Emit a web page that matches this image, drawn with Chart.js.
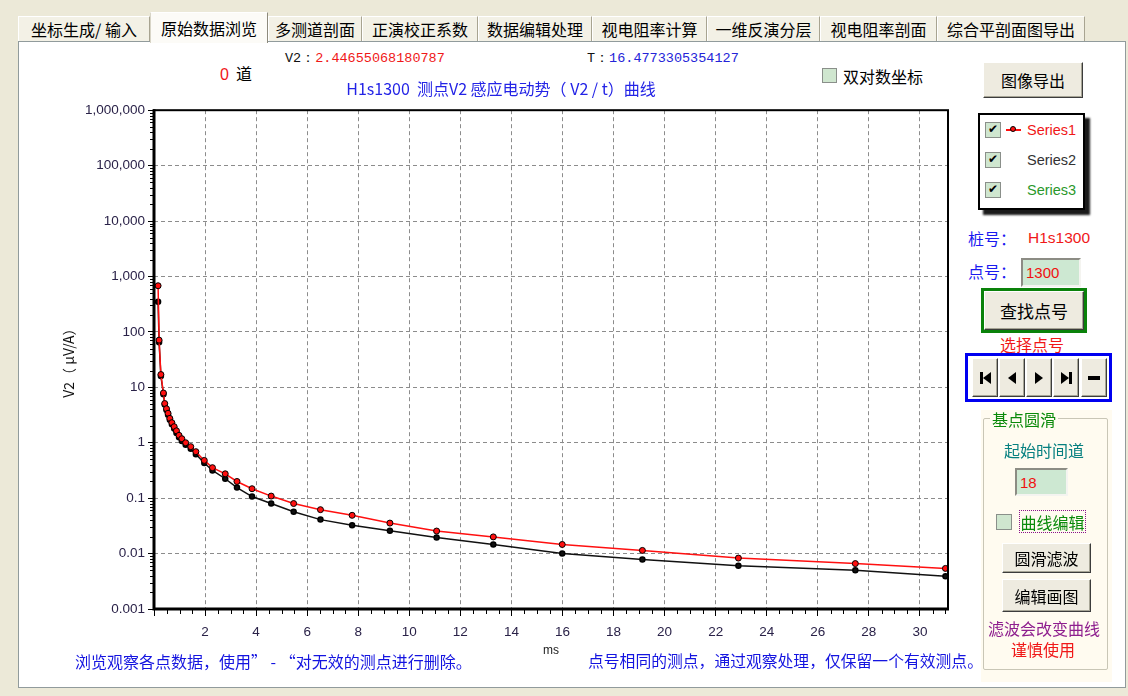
<!DOCTYPE html>
<html>
<head>
<meta charset="utf-8">
<title>原始数据浏览</title>
<script src="https://cdn.jsdelivr.net/npm/chart.js@4.4.1/dist/chart.umd.min.js"></script>
<style>
  html, body { margin: 0; padding: 0; }
  body {
    width: 1128px; height: 696px; position: relative; overflow: hidden;
    background: #ECE9D8;
    font-family: "Noto Sans CJK SC", "Liberation Sans", sans-serif;
  }
  .abs { position: absolute; white-space: nowrap; }
  .mid { transform: translateY(-50%); line-height: 1; }
  .ctr { transform: translate(-50%, -50%); line-height: 1; }
  .panel { left: 18px; top: 41px; width: 1106px; height: 645px; background: #fff; border: 1px solid #919B9C; }
  .tab {
    top: 16px; height: 25px; box-sizing: border-box;
    background: #F3F1E6; border-top: 1px solid #fff; border-left: 1px solid #fff; border-right: 1px solid #A8A491;
    font-size: 16px; color: #000; display: flex; align-items: center; justify-content: center;
  }
  .tab.sel { top: 12px; height: 31px; background: #FCFBF7; border-right: 1px solid #8D8A7C; border-left: 1px solid #D8D5C7; z-index: 2; }
  .mono { font-family: "Liberation Mono", "DejaVu Sans Mono", monospace; font-size: 13.5px; }
  .btn {
    box-sizing: border-box; background: #EEEBE0;
    border: 1px solid; border-color: #FFFFFF #3C3C3C #3C3C3C #FFFFFF;
    box-shadow: inset -1px -1px 0 #A7A596;
    display: flex; align-items: center; justify-content: center;
    font-size: 16px; color: #000;
  }
  .cb {
    box-sizing: border-box; width: 15px; height: 15px;
    border: 1px solid #8A8F8A; background: #CFE6CF;
    font-family: "DejaVu Sans", sans-serif; font-size: 12px; font-weight: bold; line-height: 13px; text-align: center; color: #000;
  }
  .edit {
    box-sizing: border-box; background: #CDE8D2;
    border: 2px solid; border-color: #8C8C84 #F4F4F0 #F4F4F0 #8C8C84;
    font-family: "Liberation Sans", sans-serif; font-size: 15px; color: #F01010;
    padding-left: 3px; display: flex; align-items: center;
  }
  .lat { font-family: "Liberation Sans", Arial, sans-serif; }
  .nav { top: 358px; width: 26px; height: 39px; }
  .tri-l { width: 0; height: 0; border-top: 6px solid transparent; border-bottom: 6px solid transparent; border-right: 8px solid #000; }
  .tri-r { width: 0; height: 0; border-top: 6px solid transparent; border-bottom: 6px solid transparent; border-left: 8px solid #000; }
  .bar { width: 3px; height: 12px; background: #000; }
</style>
</head>
<body>

<!-- tab pages -->
<div class="abs panel"></div>
<div class="abs tab" style="left:18px;width:132px;">坐标生成/ 输入</div>
<div class="abs tab sel" style="left:150px;width:118px;">原始数据浏览</div>
<div class="abs tab" style="left:268px;width:94px;">多测道剖面</div>
<div class="abs tab" style="left:362px;width:116px;">正演校正系数</div>
<div class="abs tab" style="left:478px;width:114px;">数据编辑处理</div>
<div class="abs tab" style="left:592px;width:115px;">视电阻率计算</div>
<div class="abs tab" style="left:707px;width:113px;">一维反演分层</div>
<div class="abs tab" style="left:820px;width:117px;">视电阻率剖面</div>
<div class="abs tab" style="left:937px;width:148px;">综合平剖面图导出</div>

<!-- readout line above the plot -->
<div class="abs mid mono" style="left:285px;top:59px;color:#111;">V2：<span style="color:#F01818;">2.44655068180787</span></div>
<div class="abs mid mono" style="left:587px;top:59px;color:#111;">T：<span style="color:#2424D8;">16.4773305354127</span></div>
<div class="abs mid" style="left:220px;top:74px;font-size:16px;"><span class="lat" style="color:#F01818;">0</span>&nbsp;&nbsp;道</div>
<div class="abs cb" style="left:822px;top:68px;"></div>
<div class="abs mid" style="left:843px;top:76px;font-size:16px;">双对数坐标</div>

<!-- chart -->
<div class="abs" style="left:20px;top:78px;width:940px;height:582px;">
  <canvas id="chart" width="940" height="582"></canvas>
</div>

<!-- notes under the plot -->
<div class="abs mid" style="left:75px;top:661px;font-size:16px;color:#1414E0;">浏览观察各点数据，使用” - “对无效的测点进行删除。</div>
<div class="abs mid" style="left:588px;top:661px;font-size:15.8px;color:#1414E0;">点号相同的测点，通过观察处理，仅保留一个有效测点。</div>

<!-- right control column -->
<div class="abs btn" style="left:983px;top:62px;width:100px;height:36px;">图像导出</div>

<div class="abs" id="legendBox" style="left:978px;top:113px;width:107px;height:97px;box-sizing:border-box;border:2px solid #000;background:#fff;box-shadow:5px 5px 2px #1a1a1a;"></div>

<div class="abs mid" style="left:968px;top:238px;font-size:16px;color:#1A1AF0;">桩号：</div>
<div class="abs mid lat" style="left:1028px;top:238px;font-size:15.5px;color:#F01818;">H1s1300</div>
<div class="abs mid" style="left:968px;top:271px;font-size:16px;color:#1A1AF0;">点号：</div>
<div class="abs edit" style="left:1021px;top:258px;width:60px;height:29px;">1300</div>

<div class="abs" style="left:981px;top:288px;width:106px;height:45px;box-sizing:border-box;border:3px solid #0A820A;">
  <div class="btn" style="width:100%;height:100%;font-size:17px;">查找点号</div>
</div>
<div class="abs ctr" style="left:1032px;top:344px;font-size:16px;color:#F01818;">选择点号</div>

<div class="abs" style="left:965px;top:353px;width:147px;height:49px;box-sizing:border-box;border:3px solid #0000F0;"></div>
<div class="abs btn nav" style="left:972px;"><div class="bar"></div><div class="tri-l"></div></div>
<div class="abs btn nav" style="left:999px;"><div class="tri-l"></div></div>
<div class="abs btn nav" style="left:1026px;"><div class="tri-r"></div></div>
<div class="abs btn nav" style="left:1053px;"><div class="tri-r"></div><div class="bar"></div></div>
<div class="abs btn nav" style="left:1081px;"><div style="width:12px;height:4px;background:#000;"></div></div>

<div class="abs" style="left:981px;top:410px;width:131px;height:272px;background:#FFFBF0;"></div>
<div class="abs" style="left:983px;top:418px;width:125px;height:252px;box-sizing:border-box;border:1px solid #C9C6B6;border-radius:2px;"></div>
<div class="abs mid" style="left:990px;top:419px;font-size:16px;color:#0A8A0A;background:#FFFBF0;padding:0 2px;">基点圆滑</div>
<div class="abs ctr" style="left:1044px;top:450px;font-size:16px;color:#078080;">起始时间道</div>
<div class="abs edit" style="left:1015px;top:468px;width:53px;height:28px;">18</div>
<div class="abs cb" style="left:996px;top:514px;width:16px;height:16px;"></div>
<div class="abs" style="left:1019px;top:510px;width:67px;height:23px;box-sizing:border-box;border:1px dotted #8A148A;font-size:16px;color:#0A8A0A;display:flex;align-items:center;justify-content:center;line-height:1;">曲线编辑</div>
<div class="abs btn" style="left:1002px;top:543px;width:89px;height:30px;">圆滑滤波</div>
<div class="abs btn" style="left:1002px;top:579px;width:89px;height:33px;">编辑画图</div>
<div class="abs ctr" style="left:1044px;top:628px;font-size:16px;color:#8E1E8E;">滤波会改变曲线</div>
<div class="abs ctr" style="left:1043px;top:649px;font-size:16px;color:#F01818;">谨慎使用</div>

<script>
// sampling times of the channels (ms)
const times = [0.16, 0.20, 0.27, 0.37, 0.42, 0.49, 0.55, 0.62, 0.70, 0.79, 0.88, 0.98, 1.09, 1.24,
  1.44, 1.64, 1.97, 2.29, 2.79, 3.25, 3.84, 4.59, 5.47, 6.52, 7.76, 9.24, 11.07, 13.29,
  15.99, 19.13, 22.89, 27.47, 31.0];

// induced voltage V2 (μV/A) of each series at those times
const series1 = [680, 71, 17, 7.9, 5.1, 4.1, 3.4, 2.75, 2.3, 1.95, 1.64, 1.36, 1.18, 1.0,
  0.85, 0.69, 0.48, 0.355, 0.275, 0.20, 0.148, 0.109, 0.080, 0.062, 0.049, 0.0355, 0.0255, 0.020,
  0.0146, 0.0114, 0.0083, 0.0066, 0.0054];
const series2 = [350, 65, 16, 7.5, 4.9, 3.9, 3.2, 2.6, 2.15, 1.8, 1.5, 1.25, 1.08, 0.92,
  0.78, 0.62, 0.43, 0.316, 0.224, 0.155, 0.107, 0.080, 0.057, 0.041, 0.0325, 0.0257, 0.0195, 0.0146,
  0.0100, 0.0078, 0.0060, 0.0050, 0.0039];
const series3 = [];

const seriesNames = ['Series1', 'Series2', 'Series3'];

// axis ticks
const xTicks = [0, 2, 4, 6, 8, 10, 12, 14, 16, 18, 20, 22, 24, 26, 28, 30];
const yTicks = [0.001, 0.01, 0.1, 1, 10, 100, 1000, 10000, 100000, 1000000];

const toPoints = (vals) => vals.map((v, i) => ({ x: times[i], y: v }));

// frame around the plot plus the small minor ticks on both axes
const framePlugin = {
  id: 'plotFrame',
  afterDatasetsDraw(chart) {
    const { ctx, chartArea: a, scales } = chart;
    ctx.save();
    ctx.strokeStyle = '#000';
    // minor ticks, x every 0.5 ms
    ctx.lineWidth = 1;
    ctx.beginPath();
    for (let v = 0.5; v < scales.x.max; v += 0.5) {
      if (Math.abs(v % 2) < 1e-9) continue;
      const px = Math.round(scales.x.getPixelForValue(v)) + 0.5;
      ctx.moveTo(px, a.bottom);
      ctx.lineTo(px, a.bottom + 5);
    }
    // minor ticks, y at 2..9 within each decade
    for (let d = -3; d < 6; d++) {
      for (let k = 2; k <= 9; k++) {
        const py = Math.round(scales.y.getPixelForValue(k * Math.pow(10, d))) + 0.5;
        ctx.moveTo(a.left - 4, py);
        ctx.lineTo(a.left, py);
      }
    }
    ctx.stroke();
    // outer frame
    ctx.lineWidth = 2;
    ctx.strokeRect(a.left, a.top, a.right - a.left, a.bottom - a.top);
    // heavier axis lines
    ctx.lineWidth = 3;
    ctx.beginPath();
    ctx.moveTo(a.left, a.top - 1);
    ctx.lineTo(a.left, a.bottom);
    ctx.lineTo(a.right + 1, a.bottom);
    ctx.stroke();
    ctx.restore();
  }
};

const tickFont = { family: '"Liberation Sans", Arial, sans-serif', size: 13.5 };
const tickColor = '#2A2248';

const chart = new Chart(document.getElementById('chart'), {
  type: 'line',
  data: {
    datasets: [
      {
        label: seriesNames[0], data: toPoints(series1),
        borderColor: '#FF1010', backgroundColor: '#FF1010', borderWidth: 1.5,
        pointRadius: 3, pointBorderColor: '#000', pointBorderWidth: 1, pointBackgroundColor: '#FF1010'
      },
      {
        label: seriesNames[1], data: toPoints(series2),
        borderColor: '#111', backgroundColor: '#111', borderWidth: 1.5,
        pointRadius: 2.5, pointBorderColor: '#000', pointBackgroundColor: '#111'
      },
      {
        label: seriesNames[2], data: toPoints(series3),
        borderColor: '#2A982A', backgroundColor: '#2A982A', borderWidth: 1.5, pointRadius: 2.5
      }
    ]
  },
  options: {
    responsive: false,
    animation: false,
    devicePixelRatio: 1,
    layout: { padding: { left: 34, right: 12, top: 0, bottom: 0 } },
    plugins: {
      legend: { display: false },
      tooltip: { enabled: false },
      title: {
        display: true,
        text: 'H1s1300  测点V2 感应电动势（ V2 / t）曲线',
        color: '#2323E6',
        font: { family: '"Noto Sans CJK SC", "Liberation Sans", sans-serif', size: 16, weight: 'normal' },
        padding: { top: 1, bottom: 12 }
      }
    },
    scales: {
      x: {
        type: 'linear', min: 0, max: 31.1,
        afterBuildTicks: (s) => { s.ticks = xTicks.map((v) => ({ value: v })); },
        afterFit: (s) => { s.height = 51; },
        ticks: {
          callback: (v) => (v === 0 ? '' : String(v)),
          color: tickColor, font: tickFont, padding: 8, maxRotation: 0, autoSkip: false
        },
        grid: { color: '#8C8C8C', lineWidth: 1, tickLength: 7, tickColor: '#000' },
        border: { display: false, dash: [4, 3] },
        title: {
          display: true, text: 'ms', color: '#222',
          font: { family: '"Liberation Sans", Arial, sans-serif', size: 12 },
          padding: { top: 0, bottom: 2 }
        }
      },
      y: {
        type: 'logarithmic', min: 0.001, max: 1000000,
        afterBuildTicks: (s) => { s.ticks = yTicks.map((v) => ({ value: v })); },
        afterFit: (s) => { s.width = 100; },
        ticks: {
          callback: (v) => (v >= 1 ? Number(v).toLocaleString('en-US') : String(v)),
          color: tickColor, font: tickFont, padding: 3, autoSkip: false
        },
        grid: { color: '#8C8C8C', lineWidth: 1, tickLength: 6, tickColor: '#000' },
        border: { display: false, dash: [4, 3] },
        title: {
          display: true, text: 'V2（ μV/A）', color: '#111',
          font: { family: '"Noto Sans CJK SC", "Liberation Sans", sans-serif', size: 14 },
          padding: { top: 6, bottom: 0 }
        }
      }
    }
  },
  plugins: [framePlugin]
});

// series check list beside the chart, built from the datasets
(function buildLegend() {
  const box = document.getElementById('legendBox');
  const colors = ['#F01818', '#333333', '#2A982A'];
  chart.data.datasets.forEach((ds, i) => {
    const row = document.createElement('div');
    row.style.cssText = 'position:absolute;left:5px;top:' + (7 + i * 30) + 'px;height:17px;width:98px;';
    const cb = document.createElement('div');
    cb.className = 'cb';
    cb.style.cssText = 'position:absolute;left:0;top:0;width:16px;height:16px;';
    cb.textContent = '✔';
    row.appendChild(cb);
    if (i === 0) {
      const ln = document.createElement('div');
      ln.style.cssText = 'position:absolute;left:21px;top:7px;width:15px;height:2px;background:' + ds.borderColor + ';';
      const dot = document.createElement('div');
      dot.style.cssText = 'position:absolute;left:25px;top:4px;width:6px;height:6px;border-radius:50%;box-sizing:border-box;border:1px solid #000;background:' + ds.borderColor + ';';
      row.appendChild(ln);
      row.appendChild(dot);
    }
    const tx = document.createElement('div');
    tx.className = 'lat';
    tx.style.cssText = 'position:absolute;left:42px;top:0;font-size:14.5px;line-height:17px;color:' + colors[i] + ';';
    tx.textContent = ds.label;
    row.appendChild(tx);
    box.appendChild(row);
  });
})();
</script>
</body>
</html>
